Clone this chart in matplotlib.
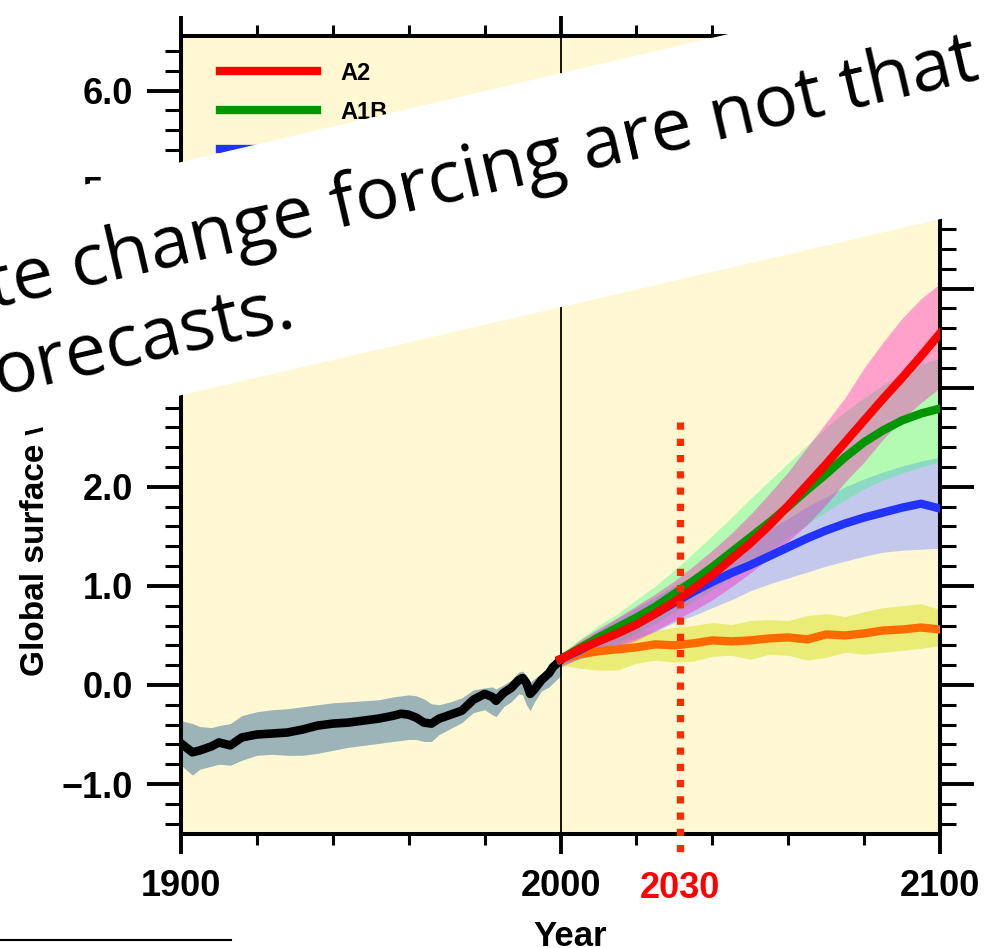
import numpy as np
import matplotlib
matplotlib.use("Agg")
import matplotlib.pyplot as plt
from matplotlib.patches import Polygon
from matplotlib.lines import Line2D
from matplotlib.ticker import MultipleLocator, FuncFormatter

plt.rcParams['font.family'] = ['Liberation Sans', 'DejaVu Sans']

# 20th century simulation (black line + grey spread)
hist_years = [1900, 1903, 1905, 1908, 1910, 1913, 1916, 1920, 1924, 1928,
              1932, 1936, 1940, 1944, 1948, 1952, 1956, 1958, 1960, 1962,
              1964, 1966, 1968, 1971, 1974, 1977, 1980, 1982, 1983, 1985,
              1987, 1989, 1990, 1991, 1992, 1993, 1995, 1997, 1998, 2000]
hist_mean = [-0.59, -0.68, -0.66, -0.62, -0.58, -0.61, -0.53, -0.50, -0.49, -0.48,
             -0.45, -0.41, -0.39, -0.38, -0.36, -0.34, -0.31, -0.29, -0.30, -0.33,
             -0.38, -0.39, -0.34, -0.30, -0.26, -0.15, -0.09, -0.12, -0.16, -0.08,
             -0.03, 0.05, 0.07, 0.02, -0.09, -0.05, 0.05, 0.12, 0.18, 0.25]
hist_upper = [-0.36, -0.39, -0.42, -0.43, -0.41, -0.39, -0.31, -0.27, -0.25, -0.24,
              -0.22, -0.20, -0.18, -0.17, -0.16, -0.15, -0.12, -0.11, -0.10, -0.11,
              -0.14, -0.19, -0.20, -0.17, -0.13, -0.05, -0.03, -0.02, -0.04, 0.00,
              0.05, 0.13, 0.14, 0.10, 0.03, 0.06, 0.12, 0.19, 0.24, 0.31]
hist_lower = [-0.81, -0.91, -0.85, -0.82, -0.80, -0.81, -0.76, -0.71, -0.70, -0.71,
              -0.71, -0.69, -0.66, -0.63, -0.61, -0.59, -0.57, -0.56, -0.55, -0.55,
              -0.57, -0.57, -0.50, -0.44, -0.38, -0.28, -0.25, -0.30, -0.32, -0.22,
              -0.17, -0.09, -0.10, -0.20, -0.26, -0.18, -0.06, -0.02, 0.02, 0.09]

# scenario projections, every 5 years 2000..2100
scen_years = [2000, 2005, 2010, 2015, 2020, 2025, 2030, 2035, 2040, 2045, 2050,
              2055, 2060, 2065, 2070, 2075, 2080, 2085, 2090, 2095, 2100]
a2_mean = [0.26, 0.36, 0.44, 0.52, 0.61, 0.72, 0.84, 0.97, 1.11, 1.27, 1.43,
           1.61, 1.81, 2.02, 2.23, 2.45, 2.67, 2.89, 3.10, 3.32, 3.55]
a2_upper = [0.30, 0.45, 0.57, 0.68, 0.80, 0.92, 1.05, 1.20, 1.36, 1.53, 1.72,
            1.93, 2.15, 2.40, 2.65, 2.90, 3.20, 3.46, 3.70, 3.90, 4.05]
a2_lower = [0.18, 0.27, 0.33, 0.38, 0.45, 0.55, 0.65, 0.75, 0.86, 0.99, 1.13,
            1.28, 1.45, 1.62, 1.82, 2.05, 2.25, 2.48, 2.68, 2.85, 3.00]
a1b_mean = [0.26, 0.37, 0.48, 0.58, 0.68, 0.79, 0.92, 1.05, 1.19, 1.34, 1.49,
            1.64, 1.80, 1.97, 2.13, 2.30, 2.45, 2.57, 2.67, 2.74, 2.79]
a1b_upper = [0.32, 0.46, 0.60, 0.72, 0.86, 1.00, 1.16, 1.33, 1.51, 1.69, 1.88,
             2.06, 2.24, 2.42, 2.60, 2.76, 2.90, 3.03, 3.14, 3.24, 3.30]
a1b_lower = [0.20, 0.27, 0.35, 0.43, 0.52, 0.62, 0.73, 0.84, 0.96, 1.09, 1.23,
             1.36, 1.49, 1.62, 1.75, 1.87, 1.98, 2.07, 2.14, 2.20, 2.25]
b1_mean = [0.26, 0.35, 0.45, 0.54, 0.62, 0.72, 0.83, 0.94, 1.04, 1.13, 1.21,
           1.30, 1.39, 1.48, 1.56, 1.63, 1.69, 1.74, 1.79, 1.83, 1.78]
b1_upper = [0.30, 0.42, 0.55, 0.67, 0.78, 0.89, 1.00, 1.11, 1.22, 1.33, 1.45,
            1.57, 1.68, 1.80, 1.90, 2.00, 2.08, 2.15, 2.21, 2.26, 2.30]
b1_lower = [0.20, 0.26, 0.32, 0.40, 0.47, 0.54, 0.63, 0.70, 0.78, 0.86, 0.95,
            1.02, 1.08, 1.14, 1.20, 1.25, 1.30, 1.34, 1.36, 1.37, 1.38]
const_mean = [0.26, 0.31, 0.34, 0.36, 0.38, 0.41, 0.40, 0.42, 0.45, 0.44, 0.45,
              0.47, 0.48, 0.46, 0.51, 0.50, 0.52, 0.55, 0.56, 0.58, 0.56]
const_upper = [0.30, 0.44, 0.50, 0.55, 0.56, 0.55, 0.58, 0.60, 0.63, 0.61, 0.65,
               0.66, 0.65, 0.70, 0.72, 0.69, 0.74, 0.78, 0.80, 0.82, 0.76]
const_lower = [0.20, 0.17, 0.15, 0.15, 0.22, 0.25, 0.23, 0.24, 0.29, 0.30, 0.26,
               0.31, 0.30, 0.25, 0.28, 0.33, 0.31, 0.33, 0.35, 0.37, 0.40]

legend_labels = ['A2', 'A1B', 'B1', 'Year 2000 Constant Concentrations', '20th century']
x_major = [1900, 2000, 2100]
x_minor = [1920, 1940, 1960, 1980, 2020, 2040, 2060, 2080]
mark_year = 2031.5   # where the hand-drawn 2030 marker sits
mark_label = '2030'

fig = plt.figure(figsize=(9.94, 9.48), dpi=100)
ax = fig.add_axes([0.1821, 0.1207, 0.7636, 0.8413])
ax.set_facecolor('#fff8d2')
ax.set_xlim(1900, 2100)
ax.set_ylim(-1.5, 6.55)

# bands
ax.fill_between(hist_years, hist_lower, hist_upper, color='#9cb3b8', lw=0, zorder=2)
ax.fill_between(scen_years, const_lower, const_upper, color=(0.86, 0.89, 0.16), alpha=0.55, lw=0, zorder=2)
ax.fill_between(scen_years, b1_lower, b1_upper, color=(0.62, 0.66, 1.0), alpha=0.6, lw=0, zorder=2)
ax.fill_between(scen_years, a1b_lower, a1b_upper, color=(0.1, 1.0, 0.45), alpha=0.33, lw=0, zorder=2)
ax.fill_between(scen_years, a2_lower, a2_upper, color=(1.0, 0.08, 0.75), alpha=0.38, lw=0, zorder=2)

ax.axvline(2000, color='black', lw=1.3, zorder=3)

# lines
ax.plot(hist_years, hist_mean, color='black', lw=6.2, zorder=4, label=legend_labels[4])
ax.plot(scen_years, const_mean, color='#ff6a00', lw=6, zorder=4, label=legend_labels[3])
ax.plot(scen_years, b1_mean, color='#2233ff', lw=6, zorder=4, label=legend_labels[2])
ax.plot(scen_years, a1b_mean, color='#009600', lw=6, zorder=5, label=legend_labels[1])
ax.plot(scen_years, a2_mean, color='#ff0000', lw=6, zorder=6, label=legend_labels[0])

h, l = ax.get_legend_handles_labels()
pairs = sorted(zip([legend_labels.index(s) for s in l], h, l))
ax.legend([p[1] for p in pairs], [p[2] for p in pairs], loc='upper left',
          bbox_to_anchor=(0.052, 0.968), frameon=False, borderpad=0,
          borderaxespad=0, handlelength=4.1, handletextpad=1.0,
          labelspacing=0.68, prop={'family': 'Liberation Sans', 'weight': 'bold', 'size': 17})

# hand-drawn 2030 marker
ax.plot([mark_year, mark_year], [2.65, -1.72], color='#ff2a00', lw=5.2,
        ls=(0, (1.0, 1.25)), clip_on=False, zorder=7)
ax.annotate(mark_label, xy=(mark_year, -0.081), xycoords=('data', 'axes fraction'),
            ha='center', va='baseline', color='#ff0000', fontsize=26,
            fontweight='bold', annotation_clip=False)

# axes styling
for s in ax.spines.values():
    s.set_linewidth(2.9)
ax.set_xticks(x_major)
ax.set_xticks(x_minor, minor=True)
ax.yaxis.set_major_locator(MultipleLocator(1.0))
ax.yaxis.set_minor_locator(MultipleLocator(0.2))
ax.yaxis.set_major_formatter(FuncFormatter(lambda v, p: f'{v:.1f}'.replace('-', '\u2212')))
ax.tick_params(axis='x', which='major', direction='out', length=14.4, width=2.8,
               top=True, bottom=True, pad=11, labelsize=26)
ax.tick_params(axis='x', which='minor', direction='out', length=8, width=2.2, top=True, bottom=True)
ax.tick_params(axis='y', which='major', direction='out', length=24.5, width=2.8,
               left=True, right=True, pad=10, labelsize=26)
ax.tick_params(axis='y', which='minor', direction='out', length=11.5, width=2.2, left=True, right=True)
for t in ax.get_xticklabels() + ax.get_yticklabels():
    t.set_fontweight('bold')

ax.set_xlabel('Year', fontsize=25, fontweight='bold')
ax.xaxis.set_label_coords(0.5125, -0.108)
ax.set_ylabel('Global surface warming (\u00b0C)', fontsize=24, fontweight='bold', loc='bottom')
ax.yaxis.label.set(rotation_mode='anchor', ha='left', va='center')
ax.yaxis.set_label_coords(-0.192, 0.1976)

# slide overlay: white tilted banner with caption text
W, H = 994.0, 948.0
def fpt(x, y):
    return (x / W, 1 - y / H)

top = lambda x: 36 + 0.234 * (720 - x)
bot = lambda x: 395 - 0.232 * (x - 182)
banner = Polygon([fpt(-10, top(-10)), fpt(1010, top(1010)), fpt(1010, bot(1010)), fpt(-10, bot(-10))],
                 closed=True, transform=fig.transFigure, facecolor='white', edgecolor='none', zorder=10)
fig.add_artist(banner)

angle = np.degrees(np.arctan(0.232))
fig.text(*fpt(-8, 308), 'te change forcing are not that', rotation=angle, rotation_mode='anchor',
         ha='left', va='baseline', fontsize=53, family='Open Sans', color='black', zorder=11)
fig.text(*fpt(-1, 396), 'orecasts.', rotation=angle, rotation_mode='anchor',
         ha='left', va='baseline', fontsize=53, family='Open Sans', color='black', zorder=11)

fig.add_artist(Line2D([0, 231 / W], [1 - 940 / H, 1 - 940 / H], color='black', lw=1.5))

fig.savefig('out.png', dpi=100)
